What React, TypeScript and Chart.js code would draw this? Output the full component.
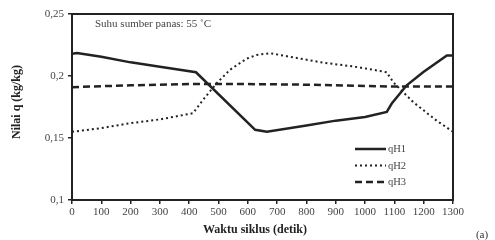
import React, { useEffect, useRef } from "react";
import { Chart, registerables } from "chart.js";

Chart.register(...registerables);

const timeH1 = [0, 17, 100, 200, 300, 423, 625, 665, 800, 900, 1000, 1074, 1091, 1142, 1199, 1279, 1300];
const qH1 = [0.218, 0.2185, 0.2155, 0.211, 0.2075, 0.203, 0.1566, 0.155, 0.16, 0.164, 0.167, 0.171, 0.1778, 0.1925, 0.2033, 0.2166, 0.2166];

const timeH2 = [0, 100, 200, 300, 413, 448, 493, 539, 596, 630, 676, 744, 850, 950, 1017, 1074, 1096, 1164, 1244, 1300];
const qH2 = [0.155, 0.158, 0.162, 0.165, 0.17, 0.181, 0.194, 0.205, 0.214, 0.217, 0.2184, 0.2155, 0.211, 0.208, 0.2055, 0.203, 0.195, 0.179, 0.164, 0.155];

const timeH3 = [0, 200, 400, 600, 800, 1000, 1100, 1300];
const qH3 = [0.191, 0.1925, 0.1935, 0.1935, 0.193, 0.192, 0.1915, 0.1915];

const seriesNames = ["qH1", "qH2", "qH3"];
const yTicks = [0.1, 0.15, 0.2, 0.25];
const yTickLabels = ["0,1", "0,15", "0,2", "0,25"];
const annotationText = "Suhu sumber panas: 55 \u02daC";
const xTitle = "Waktu siklus (detik)";
const yTitle = "Nilai q (kg/kg)";
const panelLabel = "(a)";

const FONT = "'Liberation Serif', 'Times New Roman', serif";

const toPts = (xs: number[], ys: number[]) => xs.map((x, i) => ({ x, y: ys[i] }));

export default function App() {
  const ref = useRef<HTMLCanvasElement | null>(null);
  useEffect(() => {
    document.body.style.margin = "0";
    const canvas = ref.current;
    if (!canvas) return;
    const styles = [
      { width: 2.5, dash: [] as number[] },
      { width: 2, dash: [2, 3] },
      { width: 2.5, dash: [7, 4] },
    ];
    const overlay = {
      id: "overlay",
      afterDraw(chart: any) {
        const ctx = chart.ctx;
        const a = chart.chartArea;
        ctx.save();
        ctx.strokeStyle = "#222";
        ctx.lineWidth = 2;
        ctx.setLineDash([]);
        ctx.strokeRect(a.left, a.top, a.right - a.left, a.bottom - a.top);
        ctx.fillStyle = "#444";
        ctx.font = `11px ${FONT}`;
        ctx.textAlign = "left";
        ctx.textBaseline = "middle";
        ctx.fillText(annotationText, 95, 24);
        const ly = [149, 165.5, 182];
        seriesNames.forEach((n, i) => {
          ctx.beginPath();
          ctx.strokeStyle = "#222";
          ctx.lineWidth = styles[i].width;
          ctx.setLineDash(styles[i].dash);
          ctx.moveTo(355, ly[i]);
          ctx.lineTo(386, ly[i]);
          ctx.stroke();
          ctx.setLineDash([]);
          ctx.fillStyle = "#444";
          ctx.font = `10.5px ${FONT}`;
          ctx.fillText(n, 388, ly[i] + 0.5);
        });
        ctx.fillStyle = "#222";
        ctx.font = `bold 12px ${FONT}`;
        ctx.textAlign = "center";
        ctx.fillText(xTitle, 255, 230);
        ctx.save();
        ctx.translate(17, 102);
        ctx.rotate(-Math.PI / 2);
        ctx.fillText(yTitle, 0, 0);
        ctx.restore();
        ctx.fillStyle = "#333";
        ctx.font = `11px ${FONT}`;
        ctx.fillText(panelLabel, 482, 235);
        ctx.restore();
      },
    };
    const chart = new Chart(canvas, {
      type: "line",
      data: {
        datasets: [
          { label: seriesNames[0], data: toPts(timeH1, qH1) },
          { label: seriesNames[1], data: toPts(timeH2, qH2) },
          { label: seriesNames[2], data: toPts(timeH3, qH3) },
        ].map((d, i) => ({
          ...d,
          borderColor: "#222",
          borderWidth: styles[i].width,
          borderDash: styles[i].dash,
          pointRadius: 0,
          tension: 0,
          fill: false,
        })),
      },
      options: {
        animation: false,
        responsive: false,
        maintainAspectRatio: false,
        layout: { padding: { top: 14, right: 42, left: 0, bottom: 0 } },
        plugins: { legend: { display: false }, tooltip: { enabled: false } },
        scales: {
          x: {
            type: "linear",
            min: 0,
            max: 1300,
            afterFit: (s: any) => { s.height = 40; },
            ticks: {
              stepSize: 100,
              color: "#444",
              font: { family: FONT, size: 11 },
              padding: 2,
              maxRotation: 0,
              callback: (v: any) => String(Math.round(Number(v))),
            },
            grid: { drawOnChartArea: false, tickLength: 4, color: "#222", lineWidth: 1.5 },
            border: { display: false },
          },
          y: {
            min: 0.1,
            max: 0.25,
            afterFit: (s: any) => { s.width = 72; },
            afterBuildTicks: (s: any) => { s.ticks = yTicks.map((v) => ({ value: v })); },
            ticks: {
              color: "#444",
              font: { family: FONT, size: 11 },
              padding: 4,
              callback: (v: any) => {
                const idx = yTicks.findIndex((t) => Math.abs(t - v) < 1e-9);
                return idx >= 0 ? yTickLabels[idx] : "";
              },
            },
            grid: { drawOnChartArea: false, tickLength: 4, color: "#222", lineWidth: 1.5 },
            border: { display: false },
          },
        },
      },
      plugins: [overlay],
    } as any);
    return () => chart.destroy();
  }, []);
  return (
    <div style={{ position: "absolute", left: 0, top: 0, width: 495, height: 240 }}>
      <canvas ref={ref} width={495} height={240} style={{ width: 495, height: 240 }} />
    </div>
  );
}
